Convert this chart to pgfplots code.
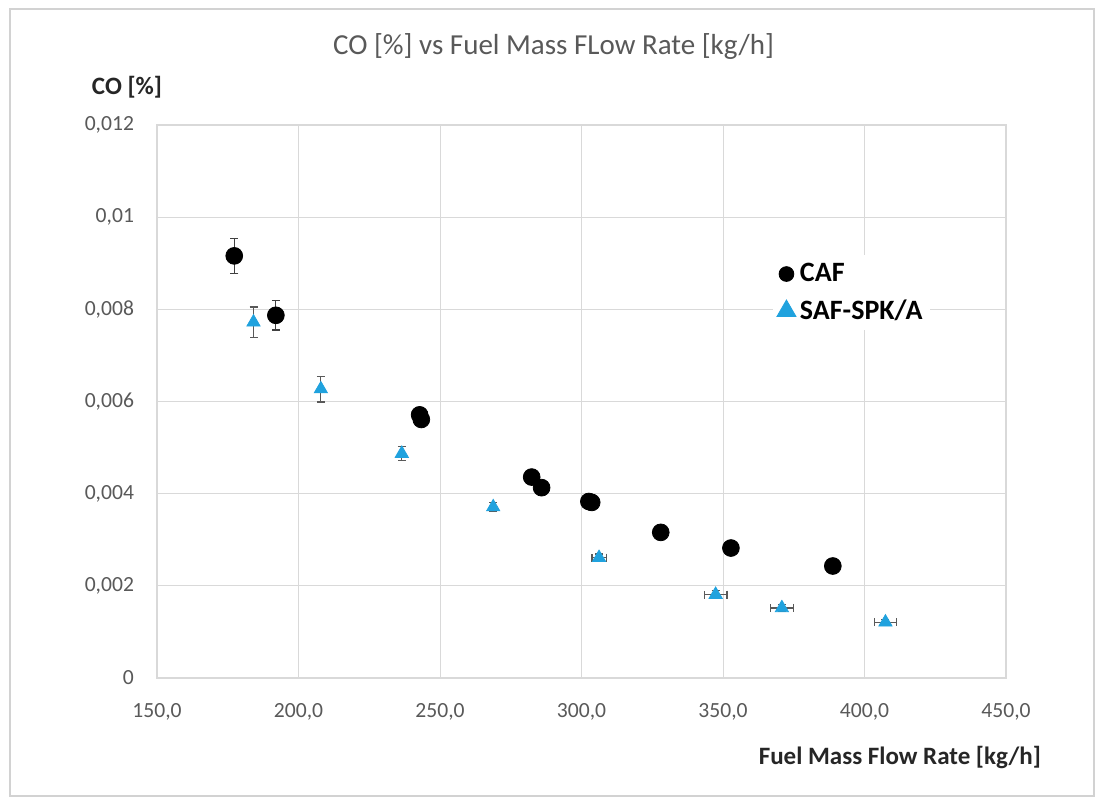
\documentclass[border=0pt]{standalone}
\usepackage{pgfplots}
\pgfplotsset{compat=1.18}
\usepackage{pgfplotstable}
\usepackage{fontspec}
\setmainfont{Carlito}
\definecolor{saf}{RGB}{32,162,222}
\definecolor{txtgray}{RGB}{89,89,89}
\definecolor{gridgray}{RGB}{217,217,217}

\pgfplotstableread{
x y ex ey
177.3 0.00916 0 0.00038
192.0 0.00787 0 0.00032
242.8 0.00571 0 0.00008
243.4 0.00561 0 0.00008
282.4 0.00436 0 0.00004
285.9 0.00413 0 0.00004
302.6 0.00383 0 0.00004
303.6 0.00381 0 0.00004
328.0 0.00316 0 0.00004
352.8 0.00282 0 0.00004
388.8 0.00243 0 0.00004
}\caf

\pgfplotstableread{
x y ex ey
184.1 0.00772 0 0.00033
207.9 0.00627 0 0.00028
236.5 0.00487 0 0.00015
268.8 0.00371 0 0.00010
306.2 0.00261 2.5 0.00008
347.4 0.00181 4 0.00008
370.8 0.00152 4 0.00007
407.4 0.00121 4 0.00006
}\saf

\begin{document}
\begin{tikzpicture}[x=1pt,y=1pt]
\useasboundingbox (0,0) rectangle (549,400.5);
\fill[white] (0,0) rectangle (549,400.5);
\draw[gray!35, line width=0.6pt] (5,2.5) rectangle (547,396);
\node[txtgray, font=\fontsize{14.5}{17}\selectfont] at (276.75,377) {CO [\%] vs Fuel Mass FLow Rate [kg/h]};
\node[black!85, font=\fontsize{12.5}{15}\selectfont\bfseries] at (63.5,357) {CO [\%]};
\node[black!85, font=\fontsize{12.5}{15}\selectfont\bfseries, anchor=east] at (524,21.5) {Fuel Mass Flow Rate [kg/h]};
\begin{axis}[
  at={(78.5pt,61.5pt)}, anchor=south west,
  scale only axis, width=424.5pt, height=276.5pt,
  xmin=150, xmax=450, ymin=0, ymax=0.012,
  xtick={150,200,250,300,350,400,450},
  xticklabels={{150,0},{200,0},{250,0},{300,0},{350,0},{400,0},{450,0}},
  ytick={0,0.002,0.004,0.006,0.008,0.01,0.012},
  yticklabels={0,{0,002},{0,004},{0,006},{0,008},{0,01},{0,012}},
  scaled y ticks=false,
  major tick length=0pt,
  grid=major,
  grid style={gridgray, line width=0.5pt},
  axis line style={gridgray, line width=0.6pt},
  tick label style={txtgray, font=\fontsize{10.8}{12}\selectfont},
  xticklabel style={yshift=-9pt},
  yticklabel style={xshift=-8pt},
  legend style={at={(0.725,0.765)}, anchor=north west, draw=none, fill=white,
    font=\fontsize{14}{16}\selectfont\bfseries, row sep=3.5pt,
    cells={anchor=west}, inner sep=2pt},
  legend cell align=left,
]
\addplot+[only marks, mark=*, mark size=4.2pt, black, mark options={fill=black, draw=black},
  legend image post style={mark size=3.7pt},
  error bars/.cd, y dir=both, y explicit, x dir=both, x explicit,
  error bar style={black!75, line width=0.6pt},
  error mark options={rotate=90, mark size=2pt, black!75, line width=0.6pt}]
  table[x=x, y=y, x error=ex, y error=ey] {\caf};
\addlegendentry{CAF}
\addplot+[only marks, mark=triangle*, mark size=3.8pt, saf, mark options={fill=saf, draw=saf},
  legend image post style={mark size=5.5pt},
  error bars/.cd, y dir=both, y explicit, x dir=both, x explicit,
  error bar style={black!65, line width=0.6pt},
  error mark options={rotate=90, mark size=2pt, black!65, line width=0.6pt}]
  table[x=x, y=y, x error=ex, y error=ey] {\saf};
\addlegendentry{SAF-SPK/A}
\end{axis}
\end{tikzpicture}
\end{document}
